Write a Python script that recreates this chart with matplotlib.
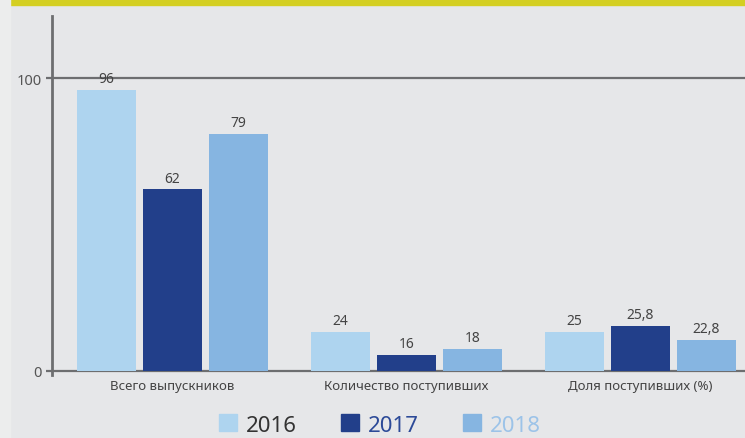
import matplotlib.pyplot as plt
from matplotlib.patches import Rectangle, Patch
import numpy as np

# data
categories = ['Всего выпускников', 'Количество поступивших', 'Доля поступивших (%)']
years = ['2016', '2017', '2018']
# bar heights as drawn (the small groups are not drawn to scale in the original)
heights_2016 = [96, 13.3, 13.3]
heights_2017 = [62, 5.5, 15.4]
heights_2018 = [81, 7.5, 10.6]
labels_2016 = ['96', '24', '25']
labels_2017 = ['62', '16', '25,8']
labels_2018 = ['79', '18', '22,8']

bar_colors = ['#aed4ef', '#223f8a', '#86b5e1']
legend_text_colors = ['#333333', '#2c4a98', '#9cc3e8']
line_col = '#6d6e70'
bg = '#e6e7e9'

plt.rcParams['font.family'] = ['Noto Sans', 'DejaVu Sans']

W, H = 745, 439
fig = plt.figure(figsize=(W / 100, H / 100), dpi=100, facecolor=bg)

# top yellow band and faint left strip
fig.patches.append(Rectangle((10 / W, 1 - 6 / H), 1, 6 / H, transform=fig.transFigure,
                             color='#d4cf22', zorder=0))
fig.patches.append(Rectangle((0, 0), 10 / W, 1, transform=fig.transFigure,
                             color='#eceded', zorder=0))

ax = fig.add_axes([52 / W, (H - 376) / H, 1 - 52 / W, (376 - 17) / H])
ax.set_facecolor(bg)

x = np.arange(len(categories))
off = 0.282
w = 0.252
series = [(heights_2016, labels_2016), (heights_2017, labels_2017), (heights_2018, labels_2018)]
for i, (hs, labs) in enumerate(series):
    bars = ax.bar(x + (i - 1) * off, hs, width=w, color=bar_colors[i], zorder=2, label=years[i])
    for b, lab in zip(bars, labs):
        ax.annotate(lab, (b.get_x() + b.get_width() / 2, b.get_height()),
                    xytext=(0, 2.5), textcoords='offset points', ha='center', va='bottom',
                    fontsize=10, color='#444444', zorder=3)

ax.axhline(0, color=line_col, lw=1.6, zorder=1)
ax.axhline(100, color=line_col, lw=1.6, zorder=1)

ax.set_xlim(-0.515, 2.447)
ax.set_ylim(-1.4, 121.2)
for s in ['top', 'right', 'bottom']:
    ax.spines[s].set_visible(False)
ax.spines['left'].set_color(line_col)
ax.spines['left'].set_linewidth(2)

ax.set_yticks([0, 100])
ax.set_yticklabels(['0', '100'])
ax.tick_params(axis='y', length=4.5, width=1.6, color=line_col, labelsize=10.5,
               labelcolor='#555555', pad=3)
ax.set_xticks(x)
ax.set_xticklabels(categories)
ax.tick_params(axis='x', length=0, labelsize=9.5, labelcolor='#444444', pad=3)

handles = [Patch(color=c) for c in bar_colors]
leg = fig.legend(handles, years, loc='center', bbox_to_anchor=(380 / W, (H - 426) / H),
                 ncol=3, frameon=False, fontsize=16, handlelength=0.8, handleheight=0.8,
                 handletextpad=0.4, columnspacing=2.0)
for t, c in zip(leg.get_texts(), legend_text_colors):
    t.set_color(c)

fig.savefig('out.png', dpi=100, facecolor=bg)
